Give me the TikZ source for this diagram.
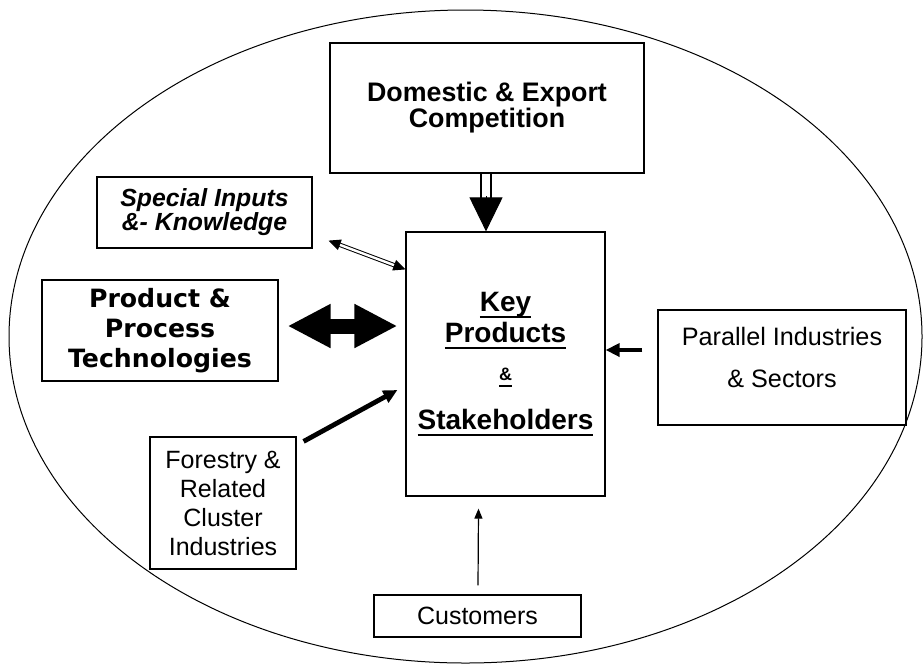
\documentclass[tikz,border=0pt]{standalone}
\usepackage{fontspec}
\setmainfont{Liberation Sans}
\newfontfamily\widefont{DejaVu Sans}
\usetikzlibrary{arrows.meta, positioning, calc}
% underline at a fixed depth
\newcommand{\undl}[1]{\setbox0\hbox{#1}\rlap{\rule[-3.2pt]{\wd0}{1pt}}\box0}

\begin{document}
\begin{tikzpicture}[x=0.5pt, y=-0.5pt, >=Triangle,
    box/.style={draw, line width=0.6pt, inner sep=0pt, align=center},
    thinarrow/.style={line width=0.6pt, -{Triangle[length=5pt, width=4pt]}},
    fatarrow/.style={line width=2.4pt, -{Triangle[length=7pt, width=6.5pt]}}]
    \useasboundingbox (0,0) rectangle (924,665);

    % cluster boundary
    \draw[line width=0.5pt] (465.5,336.5) ellipse [x radius=228.25pt, y radius=163.25pt];

    % boxes
    \node[box, minimum width=157pt, minimum height=65pt, font=\fontsize{13.4}{13}\selectfont\bfseries] (comp) at (487,108)
        {Domestic \& Export\\Competition};
    \node[box, minimum width=107.5pt, minimum height=35.5pt, font=\fontsize{12.4}{12}\selectfont\bfseries\itshape] (inputs) at (204.5,212.5) {Special Inputs\\\&- Knowledge};
    \node[box, minimum width=118pt, minimum height=50.5pt, font=\widefont\bfseries\fontsize{12.6}{15}\selectfont] (tech) at (160,330.5) {Product \&\\Process\\Technologies};
    \node[box, minimum width=99.5pt, minimum height=132pt, font=\fontsize{14}{15.5}\selectfont\bfseries] (key) at (505.5,364)
        {\undl{Key}\\\undl{Products}\\[3.8pt]{\fontsize{9}{10}\selectfont\undl{\&}}\\[8.8pt]\undl{Stakeholders}};
    \node[box, minimum width=124pt, minimum height=57.5pt, text depth=10pt, font=\fontsize{12.6}{21}\selectfont] (parallel) at (782,367.5) {Parallel Industries\\\& Sectors};
    \node[box, minimum width=73pt, minimum height=66pt, font=\fontsize{12.5}{14.5}\selectfont] (forestry) at (223,503) {Forestry \&\\Related\\Cluster\\Industries};
    \node[box, minimum width=103.5pt, minimum height=21pt, font=\fontsize{12.5}{14}\selectfont] (customers) at (477.5,616) {Customers};

    % connectors
    \draw[line width=1.2pt, double distance=3.6pt] (comp.south -| 486,0) -- (486,200);
    \draw[-{Triangle[length=17pt, width=16.5pt]}, line width=0.5pt] (486,196) -- (key.north -| 486,0);
    \draw[line width=0.5pt, double distance=1.2pt, {Triangle[length=6pt, width=5.5pt]}-{Triangle[length=6pt, width=5.5pt]}]
        ($(inputs.south east)+(16,-8)$) -- ($(key.north west)+(0,38)$);
    \draw[line width=7.5pt, {Triangle[length=21.5pt, width=20.5pt]}-{Triangle[length=21.5pt, width=20.5pt]}]
        ($(tech.east)+(9,-4.5)$) -- ($(key.west)+(-8,-38)$);
    \draw[fatarrow, line width=2pt] ($(parallel.west)+(-15,-17.5)$) -- ($(key.east)+(0,-14)$);
    \draw[fatarrow] ($(forestry.north east)+(7,5)$) -- ($(key.west)+(-8,26)$);
    \draw[thinarrow] ($(customers.north)+(0.5,-9)$) -- ($(key.south)+(-27,12)$);
\end{tikzpicture}
\end{document}
